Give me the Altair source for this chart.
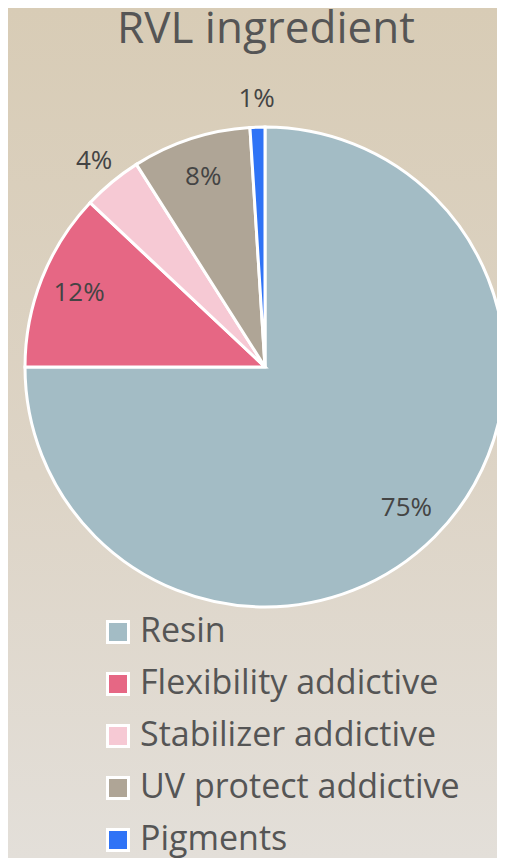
import altair as alt
import pandas as pd

title_text = "RVL ingredient"
categories = ["Resin", "Flexibility addictive", "Stabilizer addictive", "UV protect addictive", "Pigments"]
values = [75, 12, 4, 8, 1]
labels = ["75%", "12%", "4%", "8%", "1%"]
colors = ["#a3bcc5", "#e66784", "#f6c9d4", "#afa596", "#2f73f6"]

df = pd.DataFrame({
    "category": categories,
    "value": values,
    "label": labels,
    "idx": list(range(len(categories))),
})

W, H = 489, 850
CX, CY = 257, 359
FONT = "Open Sans"

bg = alt.Chart(pd.DataFrame({"a": [0]})).mark_rect(
    color=alt.LinearGradient(
        gradient="linear", x1=0, y1=0, x2=0, y2=1,
        stops=[alt.GradientStop(color="#d8ccb6", offset=0),
               alt.GradientStop(color="#ddd4c6", offset=0.55),
               alt.GradientStop(color="#e3dfd9", offset=1)],
    )
).encode(x=alt.value(0), x2=alt.value(W), y=alt.value(0), y2=alt.value(H))

title = alt.Chart(pd.DataFrame({"t": [title_text]})).mark_text(
    font=FONT, fontSize=44, color="#555555", baseline="alphabetic", align="center"
).encode(text="t:N", x=alt.value(258), y=alt.value(35))

arcs = alt.Chart(df).mark_arc(outerRadius=240, stroke="white", strokeWidth=3, x=CX, y=CY).encode(
    theta=alt.Theta("value:Q", stack=True),
    order=alt.Order("idx:Q", sort="ascending"),
    color=alt.Color(
        "category:N",
        scale=alt.Scale(domain=categories, range=colors),
        sort=categories,
        legend=alt.Legend(
            orient="none", legendX=93, legendY=607, title=None,
            symbolType="square", symbolSize=441, symbolStrokeColor="white",
            symbolStrokeWidth=3, symbolOpacity=1,
            labelFontSize=34, labelFont=FONT, labelColor="#555555",
            rowPadding=18, labelOffset=5, labelLimit=500,
        ),
    ),
)

texts = alt.Chart(df).transform_window(
    cum="sum(value)", sort=[alt.SortField("idx", order="ascending")]
).transform_joinaggregate(
    total="sum(value)"
).transform_calculate(
    mid="(datum.cum - datum.value / 2) / datum.total",
    r="datum.value < 5 ? 268 : 200",
).mark_text(fontSize=26, font=FONT, color="#444444", x=CX, y=CY).encode(
    text="label:N",
    theta=alt.Theta("mid:Q", stack=None, scale=alt.Scale(domain=[0, 1], range=[0, 6.283185307179586])),
    radius=alt.Radius("r:Q", scale=None),
)

chart = alt.layer(bg, title, arcs, texts).resolve_scale(theta="independent").properties(
    width=W, height=H, autosize=alt.AutoSizeParams(type="none"), padding=0,
    background="#dcd3c4",
).configure_view(stroke=None)

chart.save("out.html", embed_options={"renderer": "svg", "actions": False})
